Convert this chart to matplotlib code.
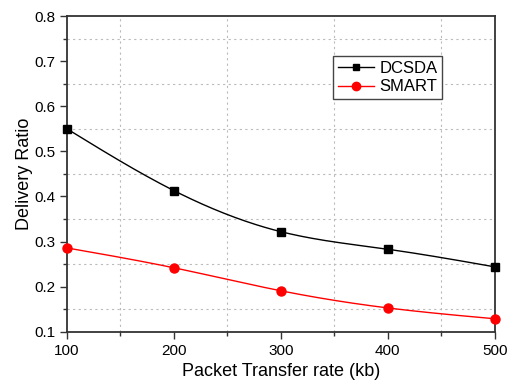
import numpy as np
import matplotlib.pyplot as plt

plt.rcParams['font.family'] = ['Liberation Sans', 'DejaVu Sans']

rates = [100, 200, 300, 400, 500]
dcsda = [0.550, 0.413, 0.322, 0.283, 0.244]
smart = [0.286, 0.242, 0.191, 0.153, 0.129]


def spline(x, y, n=200):
	# natural cubic spline through the points, smooth line like the original
	x = np.asarray(x, float)
	y = np.asarray(y, float)
	k = len(x)
	h = np.diff(x)
	A = np.zeros((k, k))
	b = np.zeros(k)
	A[0, 0] = A[-1, -1] = 1.0
	for i in range(1, k - 1):
		A[i, i - 1] = h[i - 1]
		A[i, i] = 2 * (h[i - 1] + h[i])
		A[i, i + 1] = h[i]
		b[i] = 6 * ((y[i + 1] - y[i]) / h[i] - (y[i] - y[i - 1]) / h[i - 1])
	m = np.linalg.solve(A, b)
	xs = np.linspace(x[0], x[-1], n)
	idx = np.clip(np.searchsorted(x, xs) - 1, 0, k - 2)
	t0 = xs - x[idx]
	t1 = x[idx + 1] - xs
	hi = h[idx]
	ys = (m[idx] * t1 ** 3 + m[idx + 1] * t0 ** 3) / (6 * hi) \
		+ (y[idx] / hi - m[idx] * hi / 6) * t1 \
		+ (y[idx + 1] / hi - m[idx + 1] * hi / 6) * t0
	return xs, ys


fig = plt.figure(figsize=(5.07, 3.81), dpi=100)
ax = fig.add_axes([0.132, 0.129, 0.844, 0.829])

xs, ys = spline(rates, dcsda)
ax.plot(xs, ys, color='black', lw=1.0, zorder=3)
ax.plot(rates, dcsda, 's', color='black', ms=5.5, zorder=4, clip_on=False)
xs, ys = spline(rates, smart)
ax.plot(xs, ys, color='red', lw=1.0, zorder=3)
ax.plot(rates, smart, 'o', color='red', ms=6.5, zorder=4, clip_on=False)

# legend proxies
ax.plot([], [], '-s', color='black', lw=1.0, ms=5, label='DCSDA')
ax.plot([], [], '-o', color='red', lw=1.0, ms=6, label='SMART')
leg = ax.legend(loc='upper left', bbox_to_anchor=(0.621, 0.873), fontsize=12,
	fancybox=False, framealpha=1, edgecolor='#444444', handlelength=2.2,
	borderpad=0.3, labelspacing=0.2, handletextpad=0.3, borderaxespad=0)
leg.get_frame().set_linewidth(1.0)

ax.set_xlim(100, 500)
ax.set_ylim(0.1, 0.8)
ax.set_xticks(rates)
ax.set_xticks([150, 250, 350, 450], minor=True)
ax.set_yticks(np.arange(0.1, 0.81, 0.1))
ax.set_yticks(np.arange(0.15, 0.8, 0.1), minor=True)
ax.set_yticklabels(['%.1f' % v for v in np.arange(0.1, 0.81, 0.1)])
ax.grid(which='minor', color='#bbbbbb', ls=(0, (2, 3)), lw=0.8)
ax.tick_params(which='both', direction='out', labelsize=11, width=1.0, color='#333333')
ax.tick_params(which='major', length=5)
ax.tick_params(which='minor', length=3)
for s in ax.spines.values():
	s.set_linewidth(1.3)
	s.set_color('#333333')

ax.set_xlabel('Packet Transfer rate (kb)', fontsize=13, labelpad=4)
ax.set_ylabel('Delivery Ratio', fontsize=13, labelpad=1)

fig.savefig('out.png', dpi=100)
